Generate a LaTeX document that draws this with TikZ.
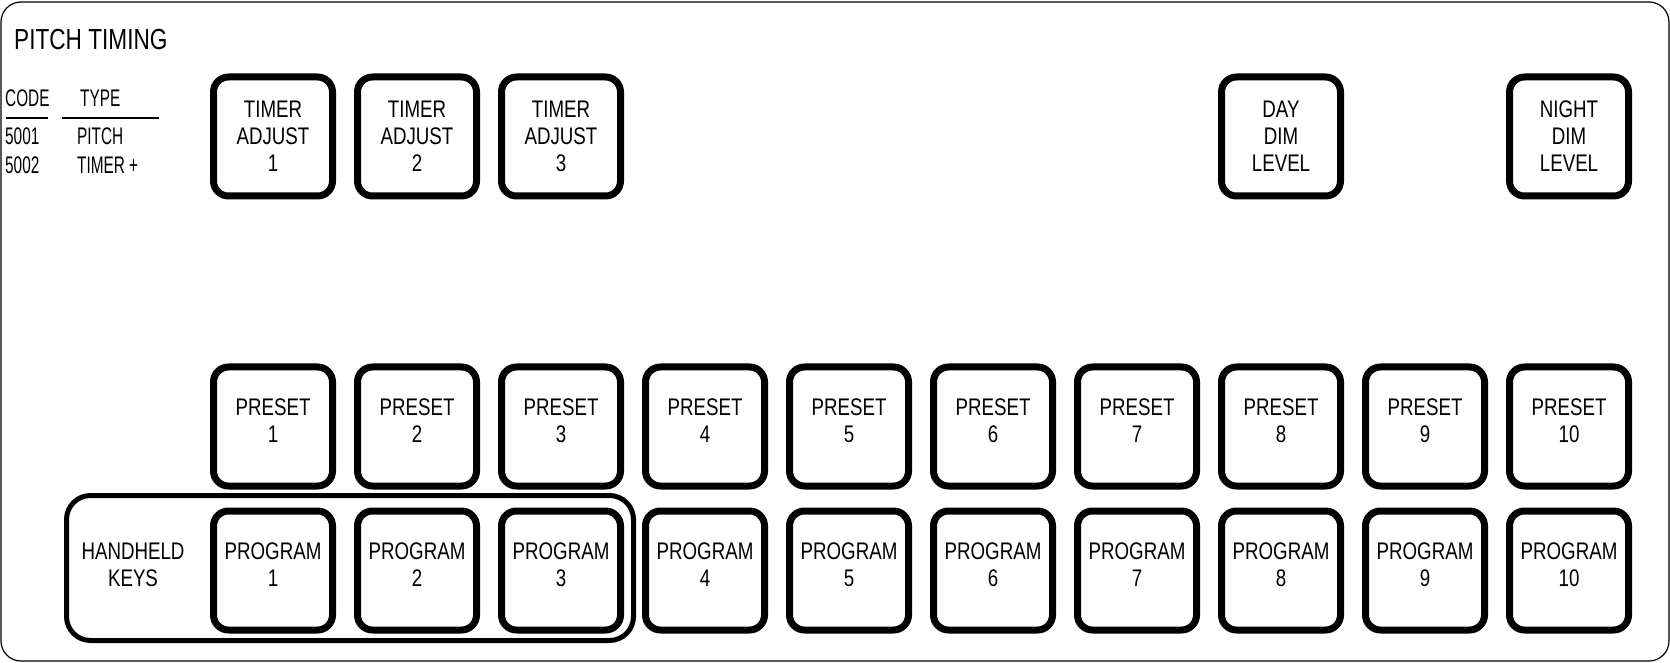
\documentclass[tikz,border=0pt]{standalone}
\usepackage{fontspec}
\setmainfont[FakeStretch=0.78]{Liberation Sans}
\newfontfamily\narrowfont[FakeStretch=0.64]{Liberation Sans}
\usetikzlibrary{positioning}
\tikzstyle{Key} = [
draw, line width=7pt, rounded corners=15pt,
minimum width=119pt, minimum height=119pt, inner sep=0pt,
align=center, font=\fontsize{24}{27}\selectfont
]
\tikzstyle{Raised} = [text depth=11pt]
\tikzstyle{Label} = [inner sep=0pt, align=center, font=\fontsize{24}{27}\selectfont]
\tikzstyle{Small} = [inner sep=0pt, anchor=west, font=\narrowfont\fontsize{24}{26}\selectfont]
\tikzstyle{Group} = [draw, line width=5pt, rounded corners=24pt]

\begin{document}
\begin{tikzpicture}[x=1pt, y=1pt, node distance=18pt]
			\useasboundingbox (0,0) rectangle (1670,662);
			\draw[line width=1.2pt, rounded corners=20pt] (1,1) rectangle (1669,660);
			
			\node [Small, font=\fontsize{29}{32}\selectfont] (title) at (14,622) {PITCH TIMING};
			\node [Small] (code) at (5,564) {CODE};
			\node [Small] (type) at (80,564) {TYPE};
			\node [Small] (c1) at (5,526) {5001};
			\node [Small] (c2) at (5,497) {5002};
			\node [Small] (t1) at (77,526) {PITCH};
			\node [Small] (t2) at (77,497) {TIMER +};
			\draw[line width=2.5pt] (6,544) -- (48,544);
			\draw[line width=2.5pt] (62,544) -- (159,544);
			
			% program row
			\node [Key, Raised] (g1) at (273,91.5) {PROGRAM\\1};
			\node [Key, Raised, right =of g1] (g2) {PROGRAM\\2};
			\node [Key, Raised, right =of g2] (g3) {PROGRAM\\3};
			\node [Key, Raised, right =of g3] (g4) {PROGRAM\\4};
			\node [Key, Raised, right =of g4] (g5) {PROGRAM\\5};
			\node [Key, Raised, right =of g5] (g6) {PROGRAM\\6};
			\node [Key, Raised, right =of g6] (g7) {PROGRAM\\7};
			\node [Key, Raised, right =of g7] (g8) {PROGRAM\\8};
			\node [Key, Raised, right =of g8] (g9) {PROGRAM\\9};
			\node [Key, Raised, right =of g9] (g10) {PROGRAM\\10};
			
			% preset row
			\node [Key, Raised, above =of g1] (r1) {PRESET\\1};
			\node [Key, Raised, above =of g2] (r2) {PRESET\\2};
			\node [Key, Raised, above =of g3] (r3) {PRESET\\3};
			\node [Key, Raised, above =of g4] (r4) {PRESET\\4};
			\node [Key, Raised, above =of g5] (r5) {PRESET\\5};
			\node [Key, Raised, above =of g6] (r6) {PRESET\\6};
			\node [Key, Raised, above =of g7] (r7) {PRESET\\7};
			\node [Key, Raised, above =of g8] (r8) {PRESET\\8};
			\node [Key, Raised, above =of g9] (r9) {PRESET\\9};
			\node [Key, Raised, above =of g10] (r10) {PRESET\\10};
			
			% top row
			\node [Key, above =164pt of r1] (a1) {TIMER\\ADJUST\\1};
			\node [Key, above =164pt of r2] (a2) {TIMER\\ADJUST\\2};
			\node [Key, above =164pt of r3] (a3) {TIMER\\ADJUST\\3};
			\node [Key, above =164pt of r8] (day) {DAY\\DIM\\LEVEL};
			\node [Key, above =164pt of r10] (night) {NIGHT\\DIM\\LEVEL};
			
			% handheld group
			\node [Label] (hh) at (133,97) {HANDHELD\\KEYS};
			\draw[Group] (66.5,21.5) rectangle (633.5,166.5);
		\end{tikzpicture}
\end{document}
